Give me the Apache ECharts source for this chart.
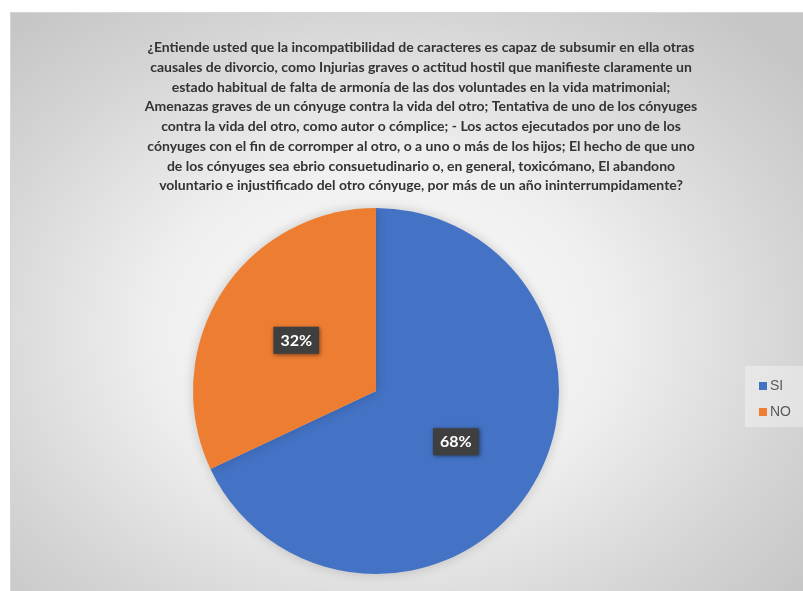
<!DOCTYPE html>
<html>
<head>
<meta charset="utf-8">
<script src="https://cdn.jsdelivr.net/npm/echarts@6/dist/echarts.min.js"></script>
<style>
  html, body { margin: 0; padding: 0; background: #ffffff; }
  #frame { position: absolute; left: 10px; top: 12px; width: 793px; height: 579px;
           background: radial-gradient(ellipse 68% 72% at 47% 55%, #fcfcfc 0%, #efefef 42%, #d4d4d4 78%, #c6c6c6 100%);
           border-top: 1px solid #d6d6d6; border-left: 1px solid #d6d6d6; box-sizing: border-box; }
  #legendbox { position: absolute; left: 745px; top: 366px; width: 58px; height: 61px; background: rgba(255,255,255,0.35); }
  #chart { position: absolute; left: 0; top: 0; width: 803px; height: 591px; }
</style>
</head>
<body>
<div id="frame"></div>
<div id="legendbox"></div>
<div id="chart"></div>
<script>
const titleLines = [
  "¿Entiende usted que la incompatibilidad de caracteres es capaz de subsumir en ella otras",
  "causales de divorcio, como Injurias graves o actitud hostil que manifieste claramente un",
  "estado habitual de falta de armonía de las dos voluntades en la vida matrimonial;",
  "Amenazas graves de un cónyuge contra la vida del otro; Tentativa de uno de los cónyuges",
  "contra la vida del otro, como autor o cómplice; - Los actos ejecutados por uno de los",
  "cónyuges con el fin de corromper al otro, o a uno o más de los hijos; El hecho de que uno",
  "de los cónyuges sea ebrio consuetudinario o, en general, toxicómano, El abandono",
  "voluntario e injustificado del otro cónyuge, por más de un año ininterrumpidamente?"
];
const categories = ["SI", "NO"];
const values = [68, 32];
const colors = ["#4472C4", "#ED7D31"];

const chart = echarts.init(document.getElementById('chart'), null, { renderer: 'canvas' });
chart.setOption({
  backgroundColor: 'transparent',
  animation: false,
  title: {
    text: titleLines.join('\n'),
    left: 416, top: 33, textAlign: 'center',
    textStyle: { fontFamily: 'Lato, sans-serif', fontWeight: 'bold', fontSize: 14, lineHeight: 19.7, color: '#333333' }
  },
  legend: {
    orient: 'vertical', left: 754, top: 374,
    icon: 'rect', itemWidth: 8, itemHeight: 8, itemGap: 12,
    textStyle: { fontFamily: 'Liberation Sans, Arial, sans-serif', fontSize: 14, color: '#595959', padding: [0,0,0,-2] },
    data: categories
  },
  series: [{
    type: 'pie',
    center: [376, 391],
    radius: 183,
    startAngle: 90,
    clockwise: true,
    color: colors,
    label: {
      show: true, position: 'inside',
      formatter: p => p.value + '%',
      fontFamily: 'Lato, sans-serif', fontWeight: 'bold', fontSize: 16, color: '#ffffff',
      backgroundColor: '#3f3f3f', padding: [6, 7, 5, 7],
      shadowColor: 'rgba(0,0,0,0.5)', shadowBlur: 4, shadowOffsetX: 1, shadowOffsetY: 1
    },
    labelLine: { show: false },
    itemStyle: { shadowColor: 'rgba(0,0,0,0.18)', shadowBlur: 12 },
    emphasis: { disabled: true },
    data: categories.map((c, i) => ({ name: c, value: values[i] }))
  }]
});
</script>
</body>
</html>
